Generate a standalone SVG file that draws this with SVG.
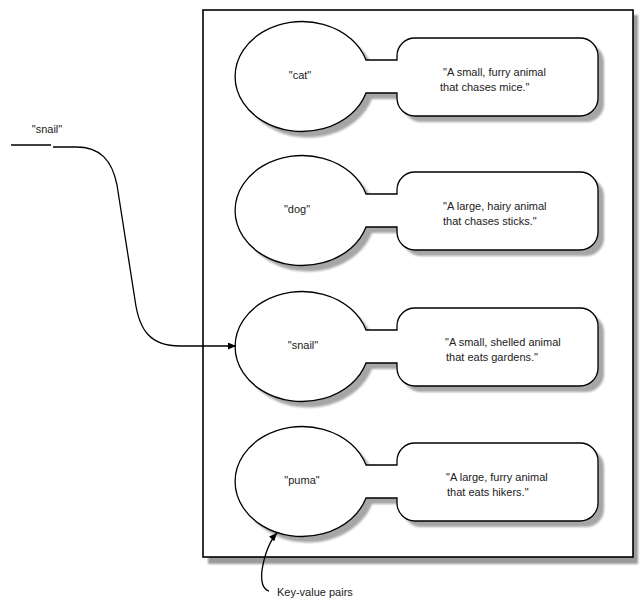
<svg xmlns="http://www.w3.org/2000/svg" xmlns:xlink="http://www.w3.org/1999/xlink" width="641" height="601" viewBox="0 0 641 601">
<style>
.shape{fill:#fff;stroke:#000;stroke-width:1.3}
.shadow{fill:#a6a6a6;stroke:none;filter:url(#blur)}
.key{font-family:"Liberation Sans Narrow","Liberation Sans",sans-serif;font-size:11px;fill:#222;text-anchor:middle}
.val{font-family:"Liberation Sans Narrow","Liberation Sans",sans-serif;font-size:11px;fill:#222}
.lbl{font-family:"Liberation Sans Narrow","Liberation Sans",sans-serif;font-size:11px;fill:#222}
.conn{fill:none;stroke:#000;stroke-width:1.3}
</style>
<defs>
<filter id="blur" x="-10%" y="-10%" width="120%" height="120%"><feGaussianBlur stdDeviation="0.9"/></filter>
<path id="pair" d="M 366 -16 H 397 V -20 A 18 18 0 0 1 415 -38 H 580 A 18 18 0 0 1 598 -20 V 22 A 18 18 0 0 1 580 40 H 415 A 18 18 0 0 1 397 22 V 17 H 366 A 67 55 0 1 1 366 -16 Z"/>
<marker id="arrow" viewBox="0 0 8 7" refX="8" refY="3.5" markerWidth="8" markerHeight="7" markerUnits="userSpaceOnUse" orient="auto">
<path d="M0,0 L8,3.5 L0,7 z" fill="#000"/>
</marker>
</defs>
<rect width="641" height="601" fill="#fff"/>
<g id="table">
<rect x="208" y="15" width="430" height="549" fill="#9a9a9a" filter="url(#blur)"/>
<rect x="203" y="10" width="430" height="547" fill="#fff" stroke="#000" stroke-width="1.6"/>
</g>
<g id="pair-cat" transform="translate(0,76)">
<use xlink:href="#pair" class="shadow" transform="translate(6,6)"/>
<use xlink:href="#pair" class="shape"/>
<text class="key" x="300" y="3">"cat"</text>
<text class="val" x="443" y="0">"A small, furry animal</text>
<text class="val" x="440" y="15">that chases mice."</text>
</g>
<g id="pair-dog" transform="translate(0,210)">
<use xlink:href="#pair" class="shadow" transform="translate(6,6)"/>
<use xlink:href="#pair" class="shape"/>
<text class="key" x="297" y="3">"dog"</text>
<text class="val" x="443" y="0">"A large, hairy animal</text>
<text class="val" x="443" y="15">that chases sticks."</text>
</g>
<g id="pair-snail" transform="translate(0,346)">
<use xlink:href="#pair" class="shadow" transform="translate(6,6)"/>
<use xlink:href="#pair" class="shape"/>
<text class="key" x="303" y="3">"snail"</text>
<text class="val" x="445" y="0">"A small, shelled animal</text>
<text class="val" x="446" y="15">that eats gardens."</text>
</g>
<g id="pair-puma" transform="translate(0,481)">
<use xlink:href="#pair" class="shadow" transform="translate(6,6)"/>
<use xlink:href="#pair" class="shape"/>
<text class="key" x="302" y="3">"puma"</text>
<text class="val" x="446" y="0">"A large, furry animal</text>
<text class="val" x="447" y="15">that eats hikers."</text>
</g>
<g id="label-snail">
<text class="lbl" x="47" y="133" text-anchor="middle">"snail"</text>
</g>
<g id="label-kv">
<text class="lbl" x="277" y="596">Key-value pairs</text>
</g>
<g id="connectors">
<path class="conn" d="M 11 145 H 51"/>
<path class="conn" marker-end="url(#arrow)" d="M 53 147 H 76 C 100 147 112 160 117 185 L 135 300 C 139 330 150 346 180 346 H 236"/>
<path class="conn" marker-end="url(#arrow)" d="M 269 591 C 262 589 261 579 262 570 C 264 558 268 543 277 533"/>
</g>
</svg>
